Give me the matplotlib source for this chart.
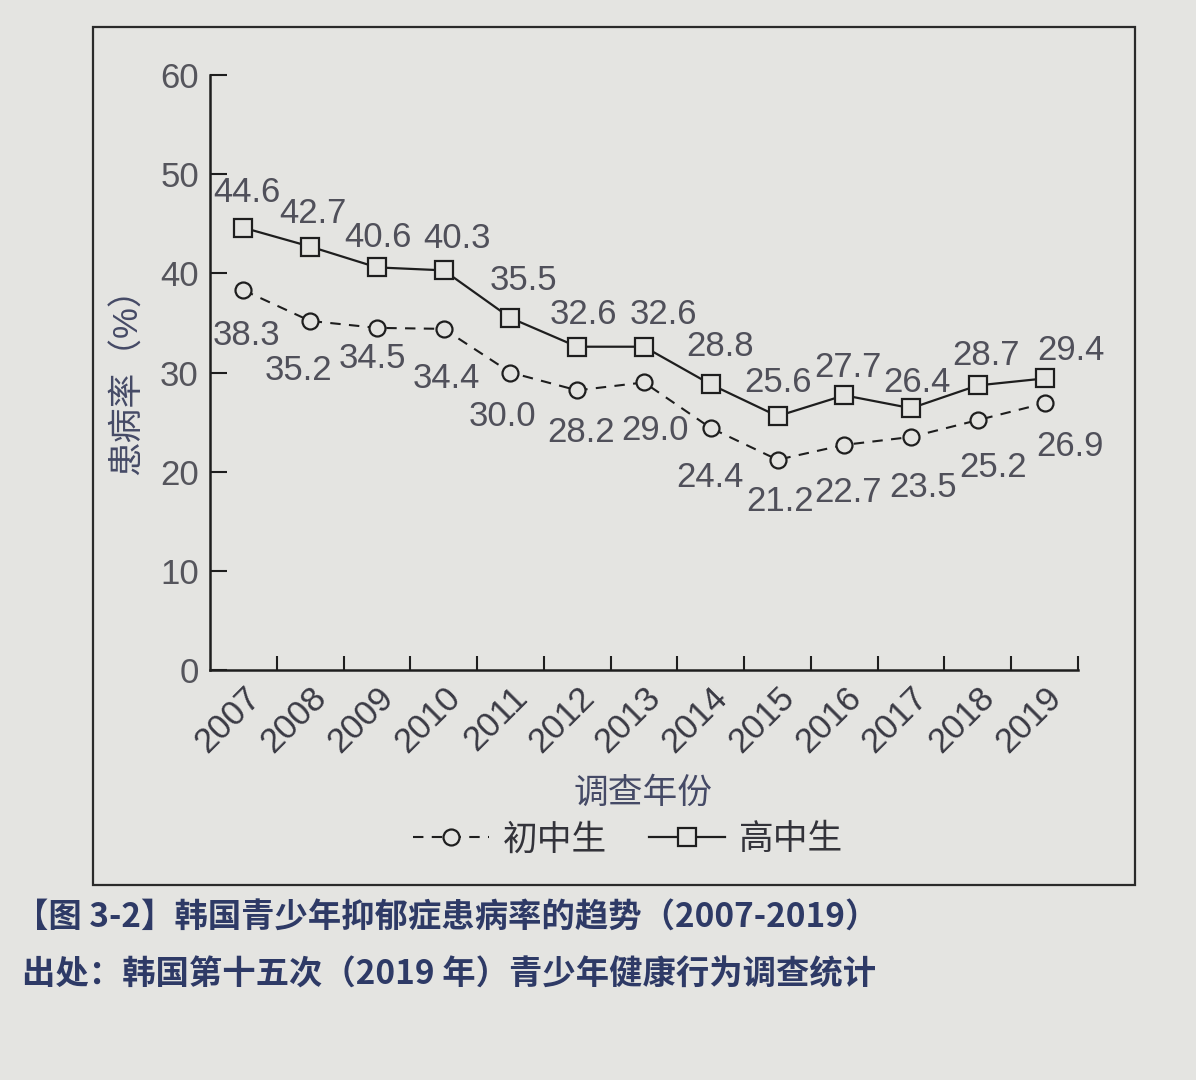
import matplotlib.pyplot as plt
from matplotlib.patches import Rectangle
from matplotlib.ticker import FixedLocator

plt.rcParams['font.family'] = ['Liberation Sans', 'Noto Sans CJK SC', 'DejaVu Sans']

years = [2007, 2008, 2009, 2010, 2011, 2012, 2013, 2014, 2015, 2016, 2017, 2018, 2019]
high_school = [44.6, 42.7, 40.6, 40.3, 35.5, 32.6, 32.6, 28.8, 25.6, 27.7, 26.4, 28.7, 29.4]
middle_school = [38.3, 35.2, 34.5, 34.4, 30.0, 28.2, 29.0, 24.4, 21.2, 22.7, 23.5, 25.2, 26.9]

# label offsets in pixels (labels are not placed uniformly)
hs_offsets = [(3, 35), (3, 33), (1, 30), (13, 32), (13, 37), (6, 32), (19, 32),
              (9, 38), (0, 34), (4, 28), (6, 26), (8, 30), (26, 28)]
ms_offsets = [(3, -45), (-12, -50), (-5, -31), (3, -50), (-8, -44), (4, -42), (11, -48),
              (-1, -49), (3, -42), (4, -48), (12, -51), (15, -47), (25, -43)]

paper = '#e4e4e1'
ink = '#1e1e1e'
num_color = '#50505a'
label_color = '#454a66'

fig = plt.figure(figsize=(11.96, 10.8), dpi=100, facecolor=paper)
ax = fig.add_axes([210 / 1196, 1 - 670 / 1080, 868 / 1196, 595 / 1080])
ax.set_facecolor(paper)

ax.plot(years, high_school, color=ink, lw=1.6, marker='s', ms=13,
        mfc=paper, mec=ink, mew=1.6, label='高中生', zorder=3)
ax.plot(years, middle_school, color=ink, lw=1.5, ls=(0, (5, 4)), marker='o', ms=11.5,
        mfc=paper, mec=ink, mew=1.6, label='初中生', zorder=3)

for x, y, (dx, dy) in zip(years, high_school, hs_offsets):
    ax.annotate(f'{y:.1f}', (x, y), xytext=(dx, dy), textcoords='offset pixels',
                ha='center', va='center', fontsize=25, color=num_color)
for x, y, (dx, dy) in zip(years, middle_school, ms_offsets):
    ax.annotate(f'{y:.1f}', (x, y), xytext=(dx, dy), textcoords='offset pixels',
                ha='center', va='center', fontsize=25, color=num_color)

ax.set_xlim(2006.5, 2019.5)
ax.set_ylim(0, 60)
ax.set_yticks([0, 10, 20, 30, 40, 50, 60])
ax.set_xticks(years)
ax.set_xticklabels([str(y) for y in years], rotation=45, ha='right',
                   rotation_mode='anchor', fontsize=25, color='#3a3a44')
ax.xaxis.set_minor_locator(FixedLocator([y + 0.5 for y in years]))
ax.tick_params(axis='x', which='major', length=0, pad=8)
ax.tick_params(axis='x', which='minor', direction='in', length=10, width=1.5, color=ink)
ax.tick_params(axis='y', direction='in', length=12, width=1.5, color=ink,
               labelsize=25, labelcolor='#55555c', pad=8)

for side in ['top', 'right']:
    ax.spines[side].set_visible(False)
for side in ['left', 'bottom']:
    ax.spines[side].set_linewidth(1.8)
    ax.spines[side].set_color(ink)

ax.set_ylabel('患病率（%）', fontsize=25, color=label_color, labelpad=12)
fig.text(643 / 1196, 1 - 793 / 1080, '调查年份', ha='center', va='center',
         fontsize=25, color=label_color)

handles, labels = ax.get_legend_handles_labels()
fig.legend(handles[::-1], labels[::-1], loc='center', bbox_to_anchor=(628 / 1196, 1 - 840 / 1080),
           ncol=2, frameon=False, fontsize=25, handlelength=2.2, columnspacing=1.2,
           handletextpad=0.4, labelcolor='#33333a')

# book-page frame around the chart
fig.patches.append(Rectangle((93 / 1196, 1 - 885 / 1080), 1042 / 1196, 858 / 1080,
                             transform=fig.transFigure, fill=False, ec='#2a2a2a', lw=1.6))

fig.text(15 / 1196, 1 - 918 / 1080, '【图 3-2】韩国青少年抑郁症患病率的趋势（2007-2019）',
         ha='left', va='center', fontsize=24, fontweight='bold', color='#2e3a66',
         family=['Noto Sans CJK SC', 'DejaVu Sans'])
fig.text(22 / 1196, 1 - 975 / 1080, '出处：韩国第十五次（2019 年）青少年健康行为调查统计',
         ha='left', va='center', fontsize=24, fontweight='bold', color='#2e3a66',
         family=['Noto Sans CJK SC', 'DejaVu Sans'])

fig.savefig('out.png', dpi=100, facecolor=paper)
